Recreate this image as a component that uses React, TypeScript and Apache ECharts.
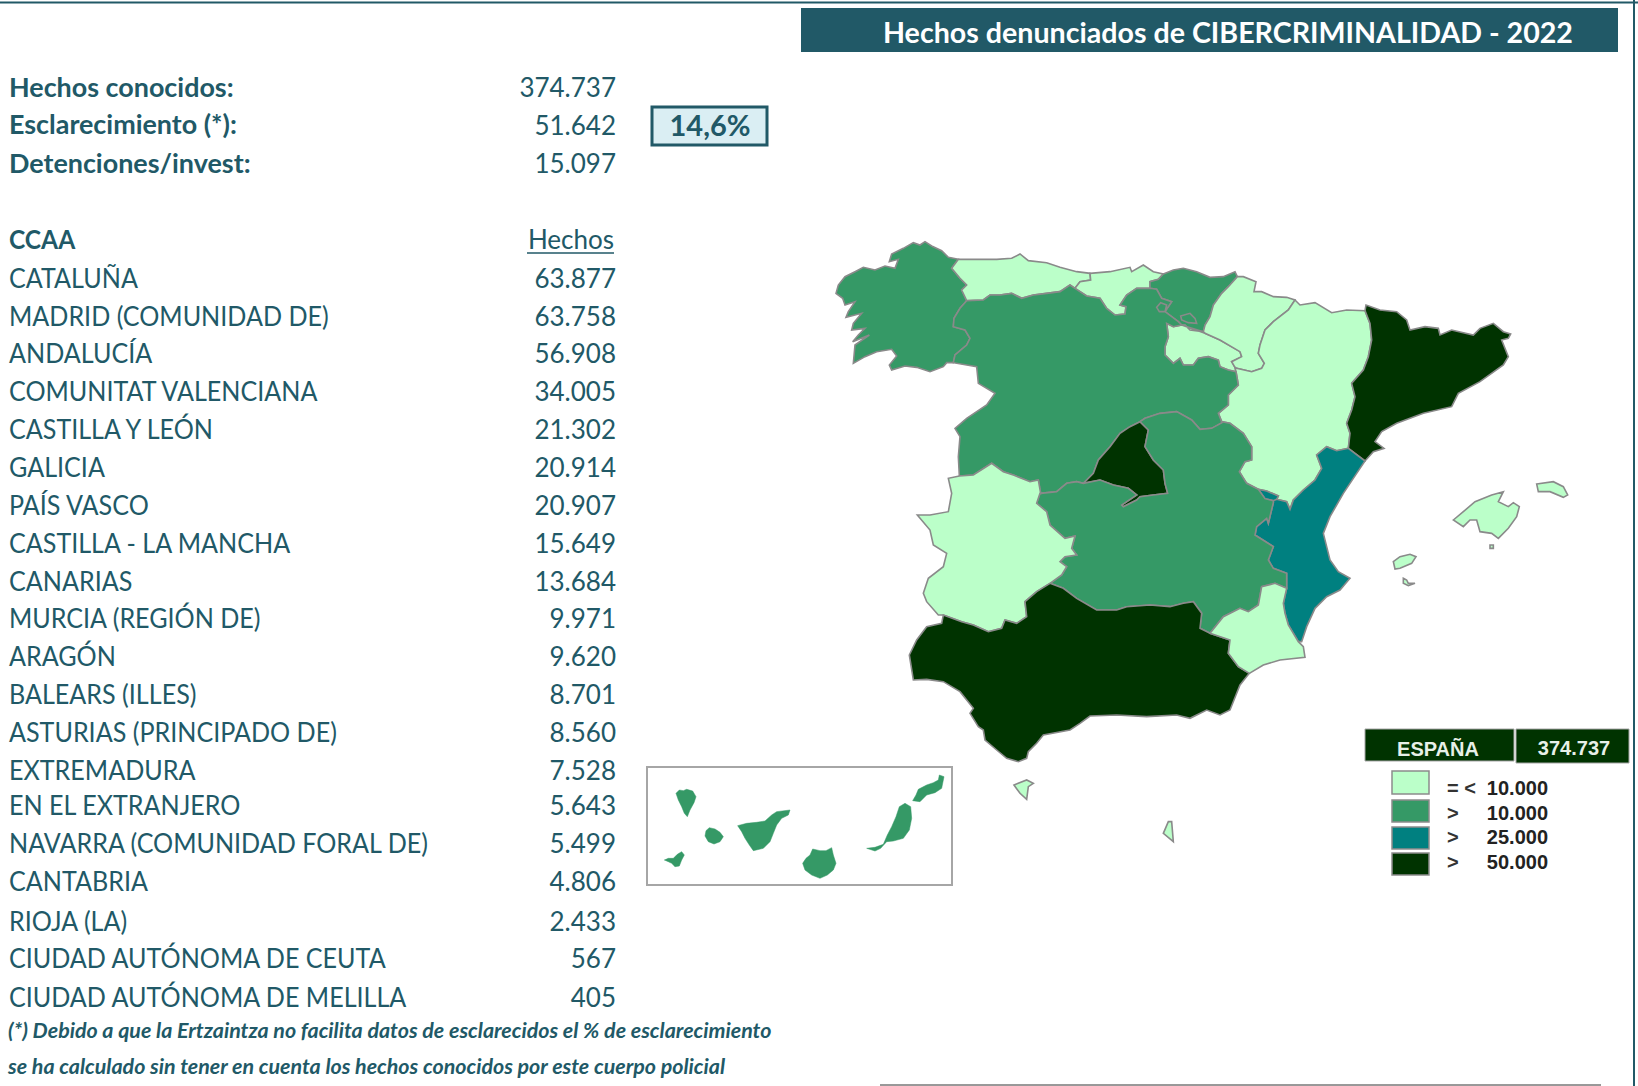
import React, { useEffect, useRef } from "react";
import * as echarts from "echarts";

// ---------- data ----------
const TITLE = "Hechos denunciados de CIBERCRIMINALIDAD - 2022";
const SUMMARY_LABELS = ["Hechos conocidos:", "Esclarecimiento (*):", "Detenciones/invest:"];
const SUMMARY_VALUES = [374737, 51642, 15097];
const CLEARANCE = "14,6%";
const CCAA = [
  "CATALUÑA", "MADRID (COMUNIDAD DE)", "ANDALUCÍA", "COMUNITAT VALENCIANA", "CASTILLA Y LEÓN",
  "GALICIA", "PAÍS VASCO", "CASTILLA - LA MANCHA", "CANARIAS", "MURCIA (REGIÓN DE)", "ARAGÓN",
  "BALEARS (ILLES)", "ASTURIAS (PRINCIPADO DE)", "EXTREMADURA", "EN EL EXTRANJERO",
  "NAVARRA (COMUNIDAD FORAL DE)", "CANTABRIA", "RIOJA (LA)", "CIUDAD AUTÓNOMA DE CEUTA",
  "CIUDAD AUTÓNOMA DE MELILLA",
];
const HECHOS = [63877, 63758, 56908, 34005, 21302, 20914, 20907, 15649, 13684, 9971, 9620, 8701, 8560, 7528, 5643, 5499, 4806, 2433, 567, 405];
const FOOTNOTES = [
  "(*) Debido a que la Ertzaintza no facilita datos de esclarecidos el % de esclarecimiento",
  "se ha calculado sin tener en cuenta los hechos conocidos por este cuerpo policial",
];
const LEGEND_OPS = ["= <", ">", ">", ">"];
const LEGEND_VALUES = [10000, 10000, 25000, 50000];
const COLORS = ["#BBFFC9", "#359966", "#008080", "#003300"];

// ---------- layout ----------
const INK = "#215967";
const SUMMARY_Y = [87, 124.5, 163];
const HEAD_Y = 239;
const ROW_Y = [278, 315.5, 353, 391, 429, 467, 504.6, 543, 581, 618, 656, 694, 732, 770, 805, 843, 881, 921, 958, 997];
const LEGEND_Y = [[771, 23], [800, 22], [827, 22], [853, 22]];
const LEGEND_TEXT_Y = [788, 813, 837, 862];

// ---------- map geometry (map units) ----------
type P = [number, number];
const frame = (ox: number, oy: number) => (f: number[]): P[] => {
  const o: P[] = [];
  for (let i = 0; i < f.length; i += 2) o.push([ox + f[i] / 3, oy + f[i + 1] / 3]);
  return o;
};
const A = frame(820, 230);
const B = frame(1130, 260);
const C = frame(890, 450);
const D = frame(1420, 470);
const F = frame(640, 760);
const E = frame(1000, 770);
const I = frame(1380, 545);
const rev = (c: P[]) => [...c].reverse();

const galCoast = A([415,88,385,82,365,62,335,48,315,35,300,45,280,38,250,55,215,72,208,95,235,88,225,115,195,108,165,120,130,112,105,125,75,140,55,165,48,190,68,205,75,225,105,215,85,245,78,262,125,250,100,280,95,300,135,295,115,315,98,335,148,315,105,345,100,400,135,380,170,365,215,358,230,378,208,405,215,420,255,408,290,412,330,425,370,410,380,398,400,398]);
const galCyl = A([400,398,405,375,440,345,450,325,435,300,400,290,402,265,420,235,440,212]);
const galAst = A([440,212,425,180,440,165,420,145,395,115,415,88]);
const astCoast = A([415,88,470,88,530,88,575,85,600,72,625,92,680,98,720,112,770,125,810,130]);
const astCan = A([810,130,812,150,780,155,765,175]);
const astCyl = A([765,175,750,165,720,185,680,190,640,195,605,205,575,190,540,195,510,195,490,210,440,212]);
const canCoast = A([810,130,870,125,930,112,935,125,970,105,1000,125,1030,132]);
const canEus = A([1030,132,1015,148,990,155,990,175]);
const canCyl = A([990,175,950,175,920,195,900,225,918,230,915,252,885,255,860,235,840,205,800,198,765,175]);
const eusCoast = A([1030,132,1060,120,1090,115,1130,125,1170,142,1210,140,1245,125,1252,140]);
const eusNav = A([1252,140,1225,170,1205,190,1180,225,1170,260,1155,285,1150,305]);
const eusRio = A([1150,305,1110,300,1095,285,1085,285]);
const eusCyl = A([1085,285,1075,275,1035,245,1055,215,1025,205,1010,178,990,175]);
const rioCyl = [...A([1085,285,1060,290,1040,280]), ...B([115,230,105,260,105,285,130,310,150,295,160,315,190,315,205,295,235,290,265,300,270,320,295,330,318,335])];
const rioNav = B([225,220,270,240,330,275,335,290,305,305,315,322]);
const rioAra = B([315,322,318,335]);
const navNorth = [...A([1252,140]), ...B([340,50,378,65,372,95,395,95,430,110,470,112,495,120])];
const navAra = B([495,120,475,150,430,185,405,210,390,255,385,280,403,310,395,325,365,335,320,325,315,322]);
const araTop = B([495,120,510,135,555,128,605,158,650,150,705,152]);
const araCat = B([705,152,720,190,725,240,715,290,700,330,665,370,675,410,665,450,650,490,660,520,655,565]);
const araVal = B([655,565,620,572,590,560,560,585,575,625,555,660,520,690,490,720,480,748,470,725]);
const araCut = B([470,725,440,718,445,708,410,693,385,688]);
const araClm = B([385,688,350,670,328,635,345,605,365,600,365,560,340,520,300,490,275,485]);
const araCyl = B([275,485,265,460,295,435,295,405,325,375,318,335]);
const catCoast = B([705,152,708,135,750,150,800,155,830,180,840,210,885,200,925,205,930,225,965,210,1030,225,1050,205,1090,190,1120,215,1142,222,1135,235,1115,240,1135,290,1120,315,1050,365,985,400,965,440,880,460,800,490,755,515,735,545,762,565,730,575,705,603]);
const catVal = B([705,603,655,565]);
const valCoast = [...B([705,603,680,640,640,700,600,770,580,820]), ...C([1320,330,1345,365,1380,385,1350,420,1310,440,1275,475,1250,530,1235,575,1225,575])];
const valMur = C([1225,575,1195,525,1185,490,1180,460,1190,415]);
const clmVal = [...C([1190,415,1190,370,1150,355,1135,330,1150,290,1095,255,1100,230,1130,205]), ...B([415,790,430,728])];
const rincon = B([385,688,410,693,445,708,440,718,430,722,405,716]);
const cylClm = A([1206,578,1175,595,1140,598,1115,570,1070,545,1020,550,975,565,960,575]);
const madCyl = A([960,575,930,590,900,610,870,650,835,690,820,730,790,760]);
const madClm = A([790,760,840,750,880,765,925,775,950,795,905,825,910,830,950,810,960,800,1000,795,1043,790,1035,760,1030,720,1000,690,975,650,985,600,960,575]);
const cylClm2 = A([790,760,770,755,740,760,710,785,662,790]);
const cylExt = A([662,790,655,750,630,755,580,735,550,725,515,700,460,735,418,738]);
const cylW = A([418,738,415,680,420,620,405,595,440,565,500,525,525,490,475,460,470,410,400,398]);
const extClm = C([450,130,440,160,470,185,480,225,525,265,555,258,545,295,560,315,525,320,510,335,530,350,515,375,480,400]);
const extWest = [...A([418,738]), ...C([175,85,185,130,175,185,120,195,82,195,120,240,130,285,170,310,160,350,115,385,100,430,110,455,145,495,160,495])];
const extAnd = C([160,495,215,515,250,525,295,545,335,535,345,510,380,520,410,500,405,455,440,425,480,400]);
const andCoast = C([160,495,155,520,110,530,80,570,58,615,70,690,110,688,160,695,210,725,250,775,240,790,265,830,280,840,285,870,320,900,350,925,385,935,410,925,415,905,440,880,460,855,540,840,570,820,600,798,680,795,770,800,860,795,900,805,950,780,990,795,1020,780,1050,705,1078,670]);
const andMur = C([1078,670,1045,650,1015,610,1020,570,960,550]);
const andClm = C([960,550,930,535,935,490,910,455,880,460,840,470,780,465,710,470,680,480,620,480,560,445,520,415,480,400]);
const murCoast = C([1078,670,1120,645,1170,630,1245,622,1240,590,1225,575]);
const murClm = C([1190,415,1155,400,1115,410,1105,465,1075,485,1050,475,1000,500,960,550]);

const REGIONS: Record<string, P[][]> = {
  "GALICIA": [[...galCoast, ...galCyl, ...galAst]],
  "ASTURIAS (PRINCIPADO DE)": [[...astCoast, ...astCan, ...astCyl, ...galAst]],
  "CANTABRIA": [[...canCoast, ...canEus, ...canCyl, ...rev(astCan)]],
  "PAÍS VASCO": [[...eusCoast, ...eusNav, ...eusRio, ...eusCyl, ...rev(canEus)]],
  "RIOJA (LA)": [[...rioCyl, ...rev(rioAra), ...rev(rioNav), ...rev(eusRio)]],
  "NAVARRA (COMUNIDAD FORAL DE)": [[...rev(eusNav), ...navNorth, ...navAra, ...rev(rioNav)]],
  "ARAGÓN": [[...araTop, ...araCat, ...araVal, ...araCut, ...araClm, ...araCyl, ...rev(rioAra), ...rev(navAra)]],
  "CATALUÑA": [[...catCoast, ...catVal, ...rev(araCat)]],
  "COMUNITAT VALENCIANA": [
    [...rev(araVal), ...rev(catVal), ...valCoast, ...valMur, ...clmVal, ...B([430,722,440,718])],
    rincon,
  ],
  "CASTILLA Y LEÓN": [
    [...galCyl, ...rev(astCyl), ...rev(canCyl), ...rev(eusCyl), ...rioCyl, ...rev(araCyl), ...cylClm, ...madCyl, ...cylClm2, ...cylExt, ...cylW],
    A([1010,232,1022,218,1040,225,1035,245,1018,245]),
    A([1082,258,1110,250,1125,265,1130,280,1105,278,1085,270]),
  ],
  "MADRID (COMUNIDAD DE)": [[...madCyl, ...madClm]],
  "CASTILLA - LA MANCHA": [[...rev(cylClm), ...rev(araClm), ...B([405,716,430,722,430,728]), ...rev(clmVal), ...murClm, ...andClm, ...rev(extClm), ...rev(cylClm2), ...madClm]],
  "EXTREMADURA": [[...rev(cylExt), ...extClm, ...rev(extAnd), ...rev(extWest)]],
  "ANDALUCÍA": [[...andCoast, ...andMur, ...andClm, ...rev(extAnd)]],
  "MURCIA (REGIÓN DE)": [[...murCoast, ...valMur, ...murClm, ...rev(andMur)]],
  "BALEARS (ILLES)": [
    D([100,150,130,125,165,95,215,75,250,65,235,95,265,110,280,98,298,110,290,140,265,175,235,205,215,190,180,185,170,150,150,150,130,170]),
    D([350,42,400,35,430,50,443,75,430,82,390,65,355,65]),
    D([210,225,220,225,220,235,210,235]),
    I([40,50,60,35,90,28,108,35,95,55,60,70,45,72]),
    I([70,100,80,105,85,115,105,115,85,122,70,115]),
  ],
  "CANARIAS": [
    F([108,100,118,90,130,92,140,88,158,93,168,110,162,128,150,150,142,170,133,160,125,140,115,120]),
    F([195,228,198,212,208,203,225,207,240,217,250,230,240,245,222,252,205,245]),
    F([73,300,85,295,100,295,112,283,125,275,133,285,125,300,118,318,105,320,95,310,85,305]),
    F([293,197,320,190,350,187,375,183,395,165,410,155,450,150,445,165,425,175,410,195,400,220,390,245,370,265,340,272,328,255,315,235,305,215]),
    F([510,285,518,267,540,272,558,272,575,263,580,285,588,310,580,330,562,345,540,355,515,345,495,330,488,310,498,295]),
    F([680,265,705,262,730,253,742,225,755,200,768,170,778,140,795,130,812,140,815,175,808,210,790,235,760,243,740,245,722,265,705,273]),
    F([818,122,828,105,835,88,860,75,880,68,895,60,898,45,912,50,905,85,885,98,860,105,840,125]),
  ],
  "CIUDAD AUTÓNOMA DE CEUTA": [E([42,45,80,30,100,40,85,50,80,88,60,70])],
  "CIUDAD AUTÓNOMA DE MELILLA": [E([505,155,515,155,520,215,490,190])],
};

const fmt = (n: number) => String(n).replace(/\B(?=(\d{3})+(?!\d))/g, ".");

const geoJson = {
  type: "FeatureCollection",
  features: Object.keys(REGIONS).map((name) => ({
    type: "Feature",
    properties: { name },
    geometry: {
      type: "MultiPolygon",
      coordinates: REGIONS[name].map((ring) => {
        const r = ring.map(([x, y]) => [x, -y]);
        r.push(r[0]);
        return [r];
      }),
    },
  })),
};

export default function App() {
  const ref = useRef<HTMLDivElement>(null);
  useEffect(() => {
    document.body.style.margin = "0";
    const chart = echarts.init(ref.current!, undefined, { renderer: "svg" });
    echarts.registerMap("espana", geoJson as any);

    const all = Object.values(REGIONS).flat(2) as P[];
    const xs = all.map((p) => p[0]);
    const ys = all.map((p) => p[1]);
    const minX = Math.min(...xs), maxX = Math.max(...xs), minY = Math.min(...ys), maxY = Math.max(...ys);

    const BODY = "Lato, sans-serif";
    const graphics: any[] = [];
    const rect = (x: number, y: number, w: number, h: number, style: any) =>
      graphics.push({ type: "rect", shape: { x, y, width: w, height: h }, style, silent: true });
    const line = (x1: number, y1: number, x2: number, y2: number, stroke: string, lineWidth: number) =>
      graphics.push({ type: "line", shape: { x1, y1, x2, y2 }, style: { stroke, lineWidth }, silent: true });
    const text = (t: string, x: number, y: number, font: string, fill: string, align: string, scaleX = 1) =>
      graphics.push({
        type: "text", x, y, scaleX, silent: true,
        style: { text: t, font, fill, align, verticalAlign: "middle" },
      });

    line(0, 2.5, 1638, 2.5, INK, 2);
    line(1634, 0, 1634, 1086, INK, 2);
    line(880, 1085, 1601, 1085, "#333333", 1);
    rect(801, 8, 817, 44, { fill: INK });
    text(TITLE, 883, 32, `bold 29px ${BODY}`, "#ffffff", "left", 0.987);

    SUMMARY_LABELS.forEach((l, i) => {
      text(l, 9, SUMMARY_Y[i], `bold 26px ${BODY}`, INK, "left", 1.035);
      text(fmt(SUMMARY_VALUES[i]), 616, SUMMARY_Y[i], `26px ${BODY}`, INK, "right", 1.0);
    });
    rect(652, 107, 115, 38, { fill: "#DAEEF3", stroke: INK, lineWidth: 3 });
    text(CLEARANCE, 710, 124.5, `bold 29px ${BODY}`, INK, "center", 1.0);

    text("CCAA", 9, HEAD_Y, `bold 26px ${BODY}`, INK, "left", 0.945);
    text("Hechos", 614, HEAD_Y, `26px ${BODY}`, INK, "right", 1.0);
    line(527, 253, 614, 253, INK, 1.5);
    CCAA.forEach((name, i) => {
      text(name, 9, ROW_Y[i], `26px ${BODY}`, INK, "left", 0.966);
      text(fmt(HECHOS[i]), 616, ROW_Y[i], `26px ${BODY}`, INK, "right", 1.0);
    });
    text(FOOTNOTES[0], 8, 1030, `italic bold 21px ${BODY}`, INK, "left", 1.02);
    text(FOOTNOTES[1], 8, 1066.5, `italic bold 21px ${BODY}`, INK, "left", 1.02);

    rect(647, 767, 305, 118, { fill: "none", stroke: "#A6A6A6", lineWidth: 2 });

    const LEG = "'Liberation Sans', Arial, sans-serif";
    rect(1365, 729, 149, 32, { fill: COLORS[3], stroke: "#A6A6A6", lineWidth: 1 });
    rect(1516, 729, 113, 34, { fill: COLORS[3], stroke: "#A6A6A6", lineWidth: 1 });
    text("ESPAÑA", 1438, 749, `bold 20px ${LEG}`, "#E8F0E8", "center");
    text(fmt(374737), 1574, 748, `bold 20px ${LEG}`, "#E8F0E8", "center");
    LEGEND_VALUES.forEach((v, i) => {
      const [y, h] = LEGEND_Y[i];
      rect(1392, y, 37, h, { fill: COLORS[i], stroke: "#8C8C8C", lineWidth: 1.5 });
      text(LEGEND_OPS[i], 1447, LEGEND_TEXT_Y[i], `bold 20px ${LEG}`, "#333333", "left");
      text(fmt(v), 1548, LEGEND_TEXT_Y[i], `bold 20px ${LEG}`, "#222222", "right");
    });

    chart.setOption({
      animation: false,
      backgroundColor: "#ffffff",
      tooltip: { show: false },
      visualMap: {
        show: false,
        type: "piecewise",
        seriesIndex: 0,
        pieces: [
          { max: 10000, color: COLORS[0] },
          { gt: 10000, lte: 25000, color: COLORS[1] },
          { gt: 25000, lte: 50000, color: COLORS[2] },
          { gt: 50000, color: COLORS[3] },
        ],
      },
      series: [
        {
          type: "map",
          map: "espana",
          aspectScale: 1,
          roam: false,
          silent: true,
          left: minX,
          top: minY,
          width: maxX - minX,
          height: maxY - minY,
          label: { show: false },
          emphasis: { disabled: true },
          select: { disabled: true },
          itemStyle: { borderColor: "#8A8A8A", borderWidth: 1.6 },
          data: CCAA.map((name, i) => ({
            name,
            value: HECHOS[i],
            ...(name === "CANARIAS" ? { itemStyle: { borderColor: COLORS[1], borderWidth: 0.5 } } : {}),
          })),
        },
      ],
      graphic: { elements: graphics },
    });
    return () => chart.dispose();
  }, []);
  return <div ref={ref} style={{ position: "absolute", left: 0, top: 0, width: 1638, height: 1086 }} />;
}
